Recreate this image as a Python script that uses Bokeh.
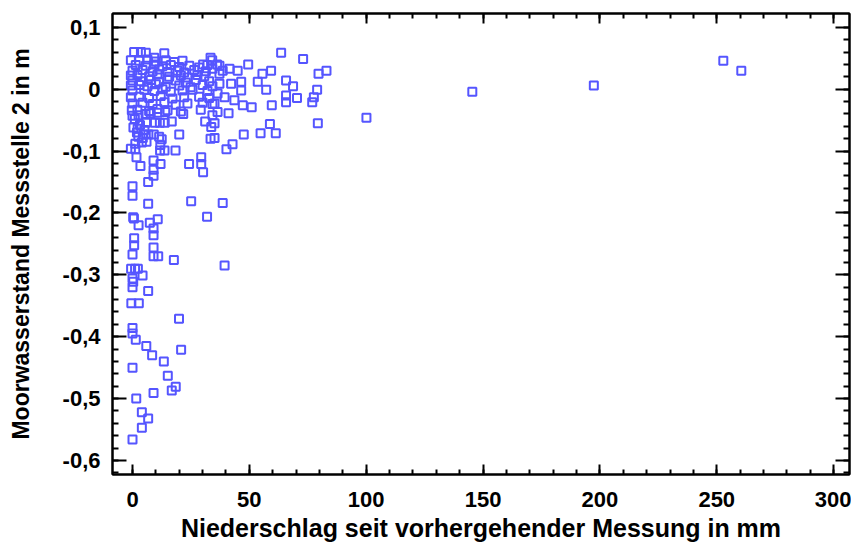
from bokeh.plotting import figure
from bokeh.models import Range1d, FixedTicker, CustomJSTickFormatter, LinearAxis
from bokeh.embed import file_html
from bokeh.resources import INLINE

# Precipitation since previous measurement (mm) and bog water level (m)
rain_dense = [0.7, 3.6, 5.7, 13.6, 9.3,
              -0.7, 2.9, 6.4, 10.0, 14.2, 17.8, 21.4, 33.4, 34.1, 30.2, 36.2,
              1.4, 5.7, 9.3, 12.8, 16.4, 20.0, 24.3, 28.5, 32.1,
              0.0, 4.3, 8.6, 11.4, 15.0, 19.3, 22.1, 26.4, 31.4, 34.2,
              -0.7, 2.1, 7.1, 10.7, 15.7, 20.7, 23.5, 27.8, 30.7,
              0.0, 3.6, 7.8, 11.4, 15.0, 18.5, 22.8, 27.1, 32.8,
              -0.7, 2.9, 6.4, 10.0, 14.2, 20.0, 24.9, 30.0, 34.2,
              0.0, 5.0, 9.3, 12.8, 16.4, 21.4, 25.7, 32.1,
              -0.7, 2.9, 7.1, 12.1, 17.1, 22.1, 28.5, 32.8,
              0.0, 4.3, 8.6, 13.6, 18.5, 23.5, 30.0, 34.2,
              -0.3, 2.1, 7.1, 10.7, 15.0, 20.7, 29.2,
              1.0, 3.2, 5.1, 1.9, 4.4, 6.0, 0.4, 2.5]
level_dense = [0.060, 0.060, 0.059, 0.058, 0.051,
               0.047, 0.046, 0.048, 0.045, 0.047, 0.044, 0.046, 0.051, 0.047, 0.040, 0.040,
               0.039, 0.038, 0.040, 0.037, 0.039, 0.036, 0.038, 0.035, 0.039,
               0.030, 0.031, 0.029, 0.032, 0.028, 0.030, 0.027, 0.031, 0.029, 0.033,
               0.022, 0.023, 0.021, 0.024, 0.020, 0.022, 0.019, 0.023, 0.021,
               0.014, 0.013, 0.015, 0.012, 0.016, 0.014, 0.011, 0.015, 0.013,
               0.006, 0.007, 0.005, 0.008, 0.004, 0.006, 0.003, 0.007, 0.005,
               -0.002, -0.001, -0.003, 0.000, -0.004, -0.002, -0.001, -0.003,
               -0.013, -0.012, -0.014, -0.011, -0.015, -0.013, -0.012, -0.014,
               -0.023, -0.022, -0.024, -0.021, -0.025, -0.023, -0.022, -0.024,
               -0.034, -0.033, -0.035, -0.032, -0.034, -0.036, -0.033,
               -0.048, -0.058, -0.066, -0.070, -0.079, -0.085, -0.062, -0.077]

rain_mid = [0.0, 2.6, 5.6, 7.8, 10.7, 14.0, 21.7, 34.2, 36.4, 41.1,
            5.8, 9.6, 11.7, 13.8, 16.8, 31.1, 35.1,
            33.7, 2.2,
            4.6, 6.8, 9.1, 11.4, 12.5, 20.0, 33.4, 35.1,
            1.2, 4.0, -0.7, 1.2,
            11.8, 13.7, 11.9, 18.4, 40.2, 42.8,
            47.6, 54.8, 58.8, 61.3, 79.3]
level_mid = [-0.043, -0.042, -0.040, -0.039, -0.038, -0.037, -0.040, -0.042, -0.037, -0.039,
             -0.054, -0.054, -0.054, -0.054, -0.052, -0.052, -0.055,
             -0.061, -0.064,
             -0.073, -0.073, -0.073, -0.077, -0.081, -0.073, -0.080, -0.079,
             -0.088, -0.086, -0.096, -0.097,
             -0.099, -0.099, -0.090, -0.099, -0.097, -0.089,
             -0.073, -0.071, -0.056, -0.071, -0.055]

rain_upper = [63.6, 73.0, 49.5, 59.3, 55.6, 53.6, 57.2, 65.7, 68.7, 65.7,
              65.7, 70.4, 59.6, 46.5, 46.5, 42.2, 45.0, 41.5, 38.6, 47.2,
              51.0, 79.6, 43.6, 39.4, 37.2, 37.2, 37.2, 36.4, 35.1, 83.0,
              79.0, 77.6, 76.9]
level_upper = [0.059, 0.049, 0.040, 0.030, 0.025, 0.012, -0.001, 0.014, 0.005, -0.010,
               -0.021, -0.014, -0.026, 0.012, -0.002, 0.009, 0.030, 0.033, 0.030, -0.026,
               -0.029, 0.025, -0.018, -0.013, 0.038, 0.025, 0.009, -0.007, -0.023, 0.030,
               -0.001, -0.013, -0.021]

rain_low = [1.7, 3.4, 9.0, 12.0, 9.0, 9.0, 6.7, 24.2, 29.4, 29.4, 30.2,
            0.0, 0.0, 6.7, 25.1, 38.6,
            0.3, 0.6, 2.6, 7.4, 10.8, 31.9, 9.0, 9.0,
            0.7, 0.7, 9.0, 0.0, 9.0, 11.0, 17.7, 39.4,
            -0.6, 1.1, 2.3, 4.3, 0.0, 0.3, 0.0, 6.7, -0.5, 2.7,
            19.9, 0.0, 0.0, 1.4, 5.9, 8.4, 13.4, 20.8, 0.0,
            15.1, 18.5, 16.8, 9.0, 1.6, 4.0, 6.7, 4.0, 0.0]
level_low = [-0.110, -0.124, -0.115, -0.121, -0.130, -0.140, -0.150, -0.121, -0.110, -0.121, -0.134,
             -0.157, -0.172, -0.185, -0.181, -0.184,
             -0.207, -0.209, -0.220, -0.216, -0.210, -0.206, -0.225, -0.236,
             -0.241, -0.252, -0.256, -0.267, -0.270, -0.270, -0.276, -0.285,
             -0.290, -0.290, -0.290, -0.301, -0.306, -0.311, -0.320, -0.326, -0.346, -0.346,
             -0.371, -0.386, -0.395, -0.405, -0.415, -0.430, -0.440, -0.421, -0.450,
             -0.463, -0.481, -0.487, -0.491, -0.500, -0.522, -0.532, -0.547, -0.566]

rain_far = [100.1, 145.4, 197.4, 252.8, 260.5]
level_far = [-0.046, -0.004, 0.006, 0.046, 0.030]

x_ticks = [0, 50, 100, 150, 200, 250, 300]
x_minor = list(range(0, 301, 10))
y_ticks = [-0.6, -0.5, -0.4, -0.3, -0.2, -0.1, 0.0, 0.1]
y_minor = [round(-0.62 + 0.02 * i, 2) for i in range(37)]

rain = rain_dense + rain_mid + rain_upper + rain_low + rain_far
level = level_dense + level_mid + level_upper + level_low + level_far

FONT = "Liberation Sans"

p = figure(width=851, height=544,
           x_range=Range1d(-8.56, 306.8), y_range=Range1d(-0.6227, 0.1224),
           output_backend="svg", toolbar_location=None,
           min_border_left=112, min_border_right=2, min_border_top=13, min_border_bottom=69)
p.xgrid.visible = False
p.ygrid.visible = False
p.outline_line_color = "black"
p.outline_line_width = 2

p.scatter(rain, level, marker="square", size=8, fill_color=None,
          line_color="#5555FF", line_width=2)

xt = FixedTicker(ticks=x_ticks, minor_ticks=x_minor)
yt = FixedTicker(ticks=y_ticks, minor_ticks=y_minor)
yfmt = CustomJSTickFormatter(code="if (Math.abs(tick) < 1e-9) return '0'; return tick.toFixed(1).replace('.', ',');")
blank = CustomJSTickFormatter(code="return '';")


def style(ax, major, minor):
    ax.axis_line_width = 2
    ax.axis_line_color = "black"
    ax.major_tick_line_width = 2
    ax.minor_tick_line_width = 2
    ax.major_tick_in = major
    ax.major_tick_out = 0
    ax.minor_tick_in = minor
    ax.minor_tick_out = 0
    ax.major_label_text_font = FONT
    ax.major_label_text_font_style = "bold"
    ax.major_label_text_font_size = "22px"
    ax.major_label_text_color = "black"
    ax.axis_label_text_font = FONT
    ax.axis_label_text_font_style = "bold"
    ax.axis_label_text_font_size = "23px"
    ax.axis_label_text_color = "black"


xa = p.xaxis[0]
xa.ticker = xt
style(xa, 10, 5)
xa.major_label_standoff = 17
xa.axis_label = "Niederschlag seit vorhergehender Messung in mm"
xa.axis_label_text_font_size = "25px"
xa.axis_label_standoff = 4

ya = p.yaxis[0]
ya.ticker = yt
ya.formatter = yfmt
style(ya, 14, 6)
ya.major_label_standoff = 12
ya.axis_label = "Moorwasserstand Messstelle 2 in m"
ya.axis_label_standoff = 26

top = LinearAxis(ticker=FixedTicker(ticks=x_ticks, minor_ticks=x_minor), formatter=blank)
style(top, 10, 5)
top.major_label_standoff = 0
p.add_layout(top, "above")

right = LinearAxis(ticker=FixedTicker(ticks=y_ticks, minor_ticks=y_minor), formatter=blank)
style(right, 14, 6)
right.major_label_standoff = 0
p.add_layout(right, "right")

open("out.html", "w").write(file_html(p, INLINE))
